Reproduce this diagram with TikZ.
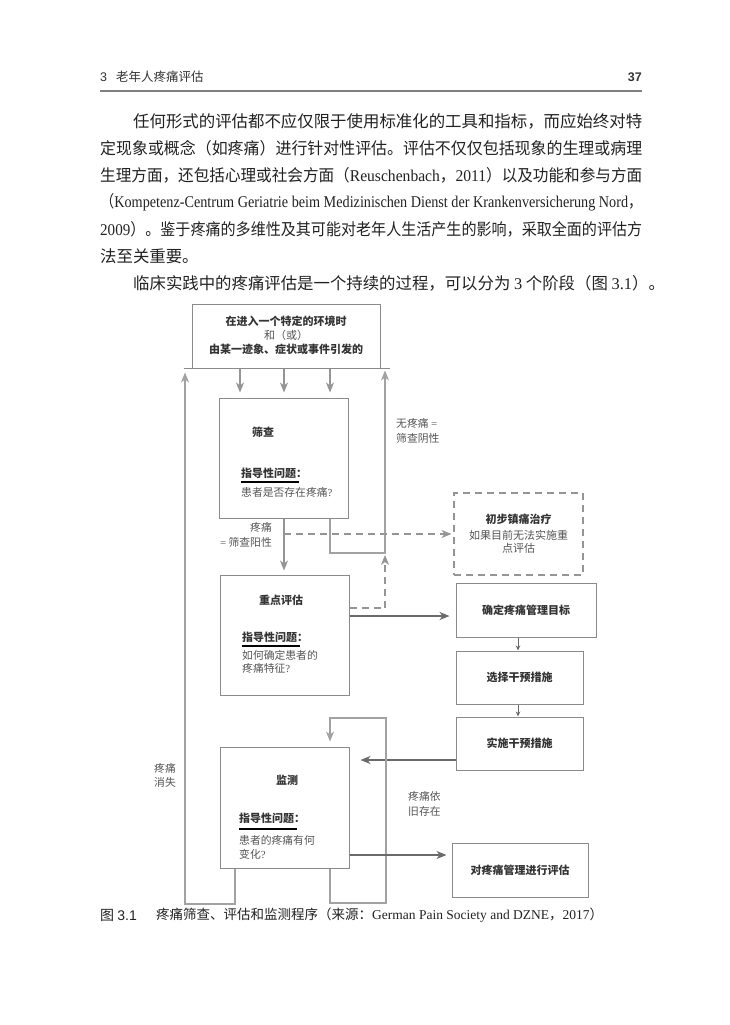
\documentclass[tikz,border=0pt]{standalone}
\usepackage{graphicx}
\usepackage{fontspec}
\setmainfont{Noto Sans CJK SC}
\newfontfamily\lat{Liberation Serif}
\newfontfamily\latsans{Liberation Sans}
\usetikzlibrary{arrows.meta}
\definecolor{bodyc}{HTML}{222222}
\definecolor{boxc}{HTML}{8A8A8A}
\definecolor{loopc}{HTML}{A2A2A2}
\definecolor{arrg}{HTML}{959595}
\definecolor{darkg}{HTML}{6A6A6A}
\definecolor{lblc}{HTML}{555555}
\definecolor{ttlc}{HTML}{333333}
\newcommand\jl[5]{\node[bodytxt, anchor=west] (#1) at (#2,#3) {\resizebox{#4pt}{\height}{#5}};}
\begin{document}
\begin{tikzpicture}[x=1pt,y=-1pt,
  bodytxt/.style={inner sep=0pt, text=bodyc, font=\fontsize{16.4}{20}\selectfont},
  bx/.style={draw=boxc, line width=1pt, inner sep=0pt},
  dbx/.style={draw=arrg, line width=1.1pt, dash pattern=on 7pt off 5pt, inner sep=0pt},
  bt/.style={inner sep=0pt, text=ttlc, font=\fontsize{11}{13}\selectfont\bfseries},
  lt/.style={inner sep=0pt, text=lblc, font=\fontsize{10.8}{14}\selectfont},
  uline/.style={draw=black, line width=1.4pt},
  tip/.style={-{Stealth[length=10pt,width=8pt,inset=3pt]}},
  garr/.style={draw=arrg, line width=1.2pt, tip},
  darr/.style={draw=darkg, line width=1.3pt, tip},
  sarr/.style={draw=darkg, line width=0.9pt, -{Stealth[length=5pt,width=4.5pt,inset=1.5pt]}},
  loopl/.style={draw=loopc, line width=1.1pt},
  dsh/.style={draw=arrg, line width=1.1pt, dash pattern=on 7pt off 5pt}
]
\useasboundingbox (0,0) rectangle (730,1025);
\fill[white] (0,0) rectangle (730,1025);

% header
\node[anchor=west, inner sep=0pt, text=ttlc, font=\fontsize{12.5}{14}\selectfont] (hdL) at (100,77) {{\latsans 3}\hspace{9pt}老年人疼痛评估};
\node[anchor=east, inner sep=0pt, text=ttlc, font=\fontsize{12.5}{14}\selectfont\bfseries] (hdR) at (642,77) {\latsans\bfseries 37};
\draw[draw=gray, line width=1.3pt] (hdL.west |- 0,91) -- (hdR.east |- 0,91);

% body text
\jl{l1}{133}{121}{509}{任何形式的评估都不应仅限于使用标准化的工具和指标，而应始终对特}
\jl{l2}{100}{148}{542}{定现象或概念（如疼痛）进行针对性评估。评估不仅仅包括现象的生理或病理}
\jl{l3}{100}{175}{542}{生理方面，还包括心理或社会方面（{\lat Reuschenbach}，{\lat 2011}）以及功能和参与方面}
\jl{l4}{100}{202}{542}{（{\lat Kompetenz-Centrum Geriatrie beim Medizinischen Dienst der Krankenversicherung Nord}，}
\jl{l5}{100}{229}{542}{{\lat 2009}）。鉴于疼痛的多维性及其可能对老年人生活产生的影响，采取全面的评估方}
\node[bodytxt, anchor=west] (l6) at (100,256) {法至关重要。};
\node[bodytxt, anchor=west] (l7) at (133,283) {临床实践中的疼痛评估是一个持续的过程，可以分为 {\lat 3} 个阶段（图 {\lat 3.1}）。};

% boxes
\node[bx, minimum width=188pt, minimum height=64pt] (top) at (286,336) {};
\node[align=center, inner sep=0pt, font=\fontsize{11}{14}\selectfont] (topT) at (286,335)
  {\textcolor{ttlc}{\bfseries 在进入一个特定的环境时}\\\textcolor{lblc}{和（或）}\\\textcolor{ttlc}{\bfseries 由某一迹象、症状或事件引发的}};
\node[bx, minimum width=129pt, minimum height=120pt] (scr) at (283.5,458) {};
\node[bx, minimum width=129pt, minimum height=120pt] (foc) at (284.5,635) {};
\node[bx, minimum width=129pt, minimum height=121pt] (mon) at (284.5,807.5) {};
\node[dbx, minimum width=129pt, minimum height=82pt, align=center, font=\fontsize{11}{13}\selectfont] (init) at (518.5,534)
  {\textcolor{ttlc}{\bfseries 初步镇痛治疗}\\[3pt]\textcolor{lblc}{如果目前无法实施重}\\\textcolor{lblc}{点评估}};
\node[bx, minimum width=140pt, minimum height=54pt, font=\fontsize{11}{13}\selectfont\bfseries, text=ttlc] (goal) at (526,610) {确定疼痛管理目标};
\node[bx, minimum width=127pt, minimum height=53pt, font=\fontsize{11}{13}\selectfont\bfseries, text=ttlc] (sel) at (519.5,677.5) {选择干预措施};
\node[bx, minimum width=127pt, minimum height=53pt, font=\fontsize{11}{13}\selectfont\bfseries, text=ttlc] (impl) at (519.5,743.5) {实施干预措施};
\node[bx, minimum width=136pt, minimum height=54pt, font=\fontsize{11}{13}\selectfont\bfseries, text=ttlc] (eval) at (520,870) {对疼痛管理进行评估};

% texts in left boxes
\node[bt, anchor=west] (scrT) at (252,432) {筛查};
\node[bt, anchor=west] (scrQ) at (241,473) {指导性问题：};
\draw[uline] (241,482) -- (299,482);
\node[lt, anchor=west] (scrA) at (241,492) {患者是否存在疼痛{\lat ?}};

\node[bt, anchor=west] (focT) at (259,600) {重点评估};
\node[bt, anchor=west] (focQ) at (242,637) {指导性问题：};
\draw[uline] (242,646) -- (300,646);
\node[lt, anchor=west, align=left, font=\fontsize{10.8}{12.5}\selectfont] (focA) at (242,662) {如何确定患者的\\疼痛特征{\lat ?}};

\node[bt, anchor=west] (monT) at (276,780) {监测};
\node[bt, anchor=west] (monQ) at (239,818) {指导性问题：};
\draw[uline] (239,829) -- (297,829);
\node[lt, anchor=west, align=left] (monA) at (239,847) {患者的疼痛有何\\变化{\lat ?}};

% labels
\node[lt, anchor=west, align=left, font=\fontsize{10.8}{15}\selectfont] (negL) at (396,430.5) {无疼痛 {\lat =}\\筛查阴性};
\node[lt, anchor=east, align=right, font=\fontsize{10.8}{15}\selectfont] (posL) at (272,534.5) {疼痛\\{\lat =} 筛查阳性};
\node[lt, anchor=west, align=left] (goneL) at (154,775) {疼痛\\消失};
\node[lt, anchor=west, align=left, font=\fontsize{10.8}{15}\selectfont] (stillL) at (408,804) {疼痛依\\旧存在};

% coordinates
\coordinate (x1) at (240,0);
\coordinate (x2) at (284,0);
\coordinate (x3) at (330,0);
\coordinate (x4) at (518,0);
\coordinate (x5) at (235,0);
\coordinate (nA) at (385,553);
\coordinate (mR1) at (386,903);
\coordinate (mR2) at (386,718);
\coordinate (mL) at (185,904);
\coordinate (dS) at (284,534);
\coordinate (fD) at ([yshift=27pt]foc.east);
\coordinate (fG) at ([yshift=19pt]foc.east);
\coordinate (iM) at ([yshift=-16.5pt]impl.west);
\coordinate (mE) at ([yshift=-47.5pt]mon.east);

% extended bottom edge of top box
\draw[draw=boxc, line width=1pt] ([xshift=-8pt]top.south west) -- ([xshift=9pt]top.south east);

% connectors
\foreach \c in {x1,x2,x3} \draw[garr, shorten >=5pt] (top.south -| \c) -- (scr.north -| \c);
\draw[loopl, tip, shorten >=2pt] (scr.south -| x3) |- (nA) -- (nA |- top.south);
\draw[garr, shorten >=4pt] (scr.south -| x2) -- (foc.north -| x2);
\draw[dsh, tip, shorten >=2pt] (dS) -- (init.west);
\draw[dsh, tip, shorten >=2pt] (fD) -| (nA);
\draw[darr, shorten >=6pt] (fG) -- (fG -| goal.west);
\draw[sarr] (goal.south -| x4) -- (sel.north -| x4);
\draw[sarr] (sel.south -| x4) -- (impl.north -| x4);
\draw[darr, shorten >=11pt] (iM) -- (iM -| mon.east);
\draw[loopl, tip, shorten >=5pt] (mon.south -| x3) |- (mR1) -- (mR2) -| (mon.north -| x3);
\draw[loopl, tip, shorten >=4pt] (mon.south -| x5) |- (mL) -- (mL |- top.south);
\draw[darr, shorten >=5pt] (mE) -- (mE -| eval.west);

% caption
\node[anchor=west, inner sep=0pt, text=bodyc, font=\fontsize{14}{16}\selectfont] (capN) at (100,915) {图 {\latsans 3.1}};
\node[anchor=west, inner sep=0pt, text=bodyc, font=\fontsize{13.5}{16}\selectfont] (capT) at (156,915) {疼痛筛查、评估和监测程序（来源：{\lat German Pain Society and DZNE}，{\lat 2017}）};
\end{tikzpicture}
\end{document}
